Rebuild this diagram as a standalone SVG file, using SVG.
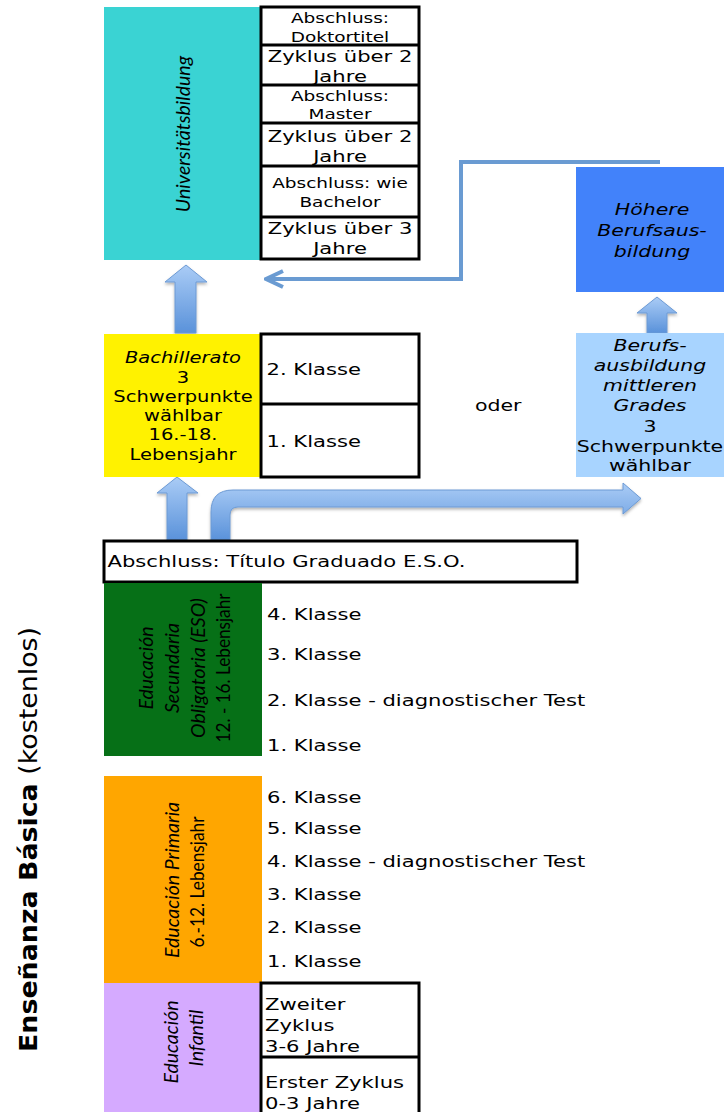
<svg xmlns="http://www.w3.org/2000/svg" width="724" height="1112" viewBox="0 0 724 1112">
<style>
.v{font-family:"DejaVu Sans",Verdana,sans-serif;fill:#000}
.s14{font-size:14px}
.s15{font-size:15px}
.s16{font-size:16px}
.m{text-anchor:middle}
.i{font-style:italic}
.c{font-family:Lato,"Open Sans",sans-serif;font-size:19.5px;fill:#000;text-anchor:middle}
.tbl{fill:#fff;stroke:#000;stroke-width:3}
.ln{stroke:#000;stroke-width:3}
.blk{fill:url(#ag);stroke:#6C9AD4;stroke-width:1;filter:url(#sh)}
.con{fill:none;stroke:#6A9BD2;stroke-width:4}
</style>
<defs>
<linearGradient id="ag" x1="0" y1="0" x2="0" y2="1">
<stop offset="0" stop-color="#AACCF6"/>
<stop offset="1" stop-color="#5A92DA"/>
</linearGradient>
<filter id="sh" x="-20%" y="-20%" width="140%" height="140%">
<feDropShadow dx="0" dy="2" stdDeviation="1.5" flood-color="#000" flood-opacity="0.3"/>
</filter>
<marker id="ah" viewBox="-20 -10 22 20" refX="0" refY="0" markerWidth="22" markerHeight="20" markerUnits="userSpaceOnUse" orient="auto">
<path d="M-17,-8 L0,0 L-17,8" fill="none" stroke="#6A9BD2" stroke-width="4"/>
</marker>
</defs>
<rect width="724" height="1112" fill="#fff"/>

<g id="connectors">
<polyline class="con" points="660,162 461,162 461,279 266,279" marker-end="url(#ah)"/>
<path class="blk" d="M186,265 L207,282 L196,282 L196,333 L175,333 L175,282 L165,282 Z"/>
<path class="blk" d="M657,297 L677,313 L667,313 L667,333 L647,333 L647,313 L637,313 Z"/>
<path class="blk" d="M177,477 L198,493 L187,493 L187,540 L167,540 L167,493 L157,493 Z"/>
<path class="blk" d="M211,540 L211,512 Q211,490 233,490 L623,490 L623,483 L641,498.5 L623,514 L623,507 L238,507 Q230,507 230,515 L230,540 Z"/>
</g>

<g id="universitaet">
<rect x="104" y="7" width="156" height="253" fill="#3AD3D3"/>
<text class="c i" transform="translate(189.5,134) rotate(-90)">Universitätsbildung</text>
</g>
<g id="uni-tabelle">
<rect class="tbl" x="261" y="7" width="158" height="252"/>
<line class="ln" x1="261" y1="45" x2="419" y2="45"/>
<line class="ln" x1="261" y1="85" x2="419" y2="85"/>
<line class="ln" x1="261" y1="123" x2="419" y2="123"/>
<line class="ln" x1="261" y1="166" x2="419" y2="166"/>
<line class="ln" x1="261" y1="217" x2="419" y2="217"/>
<text class="v s14 m" transform="translate(340,22.5) scale(1.32,1)">Abschluss:</text>
<text class="v s14 m" transform="translate(340,41.5) scale(1.32,1)">Doktortitel</text>
<text class="v s16 m" transform="translate(340,62) scale(1.32,1)">Zyklus über 2</text>
<text class="v s16 m" transform="translate(340,81.5) scale(1.32,1)">Jahre</text>
<text class="v s14 m" transform="translate(340,100.5) scale(1.32,1)">Abschluss:</text>
<text class="v s14 m" transform="translate(340,119) scale(1.32,1)">Master</text>
<text class="v s16 m" transform="translate(340,141.5) scale(1.32,1)">Zyklus über 2</text>
<text class="v s16 m" transform="translate(340,161.5) scale(1.32,1)">Jahre</text>
<text class="v s14 m" transform="translate(340,188) scale(1.32,1)">Abschluss: wie</text>
<text class="v s14 m" transform="translate(340,207) scale(1.32,1)">Bachelor</text>
<text class="v s16 m" transform="translate(340,234) scale(1.32,1)">Zyklus über 3</text>
<text class="v s16 m" transform="translate(340,254) scale(1.32,1)">Jahre</text>
</g>

<g id="hoehere">
<rect x="576" y="167" width="148" height="125" fill="#4282FA"/>
<text class="v s16 m i" transform="translate(652,215) scale(1.28,1)">Höhere</text>
<text class="v s16 m i" transform="translate(652,236) scale(1.28,1)">Berufsaus-</text>
<text class="v s16 m i" transform="translate(652,256.5) scale(1.28,1)">bildung</text>
</g>

<g id="bachillerato">
<rect x="104" y="334" width="156" height="143" fill="#FFF200"/>
<text class="v s15 m i" transform="translate(183,362.5) scale(1.3,1)">Bachillerato</text>
<text class="v s15 m" transform="translate(183,382.5) scale(1.3,1)">3</text>
<text class="v s15 m" transform="translate(183,401.5) scale(1.3,1)">Schwerpunkte</text>
<text class="v s15 m" transform="translate(183,420.5) scale(1.3,1)">wählbar</text>
<text class="v s15 m" transform="translate(183,440) scale(1.3,1)">16.-18.</text>
<text class="v s15 m" transform="translate(183,460) scale(1.3,1)">Lebensjahr</text>
</g>
<g id="bach-tabelle">
<rect class="tbl" x="261" y="334" width="158" height="143"/>
<line class="ln" x1="261" y1="404" x2="419" y2="404"/>
<text class="v s16" transform="translate(266.5,375) scale(1.32,1)">2. Klasse</text>
<text class="v s16" transform="translate(266.5,446.5) scale(1.32,1)">1. Klasse</text>
</g>

<g id="oder">
<text class="v s16" transform="translate(475,411) scale(1.28,1)">oder</text>
</g>

<g id="berufsausbildung">
<rect x="576" y="333" width="148" height="144" fill="#A8D4FF"/>
<text class="v s16 m i" transform="translate(650,350.5) scale(1.28,1)">Berufs-</text>
<text class="v s16 m i" transform="translate(650,371) scale(1.28,1)">ausbildung</text>
<text class="v s16 m i" transform="translate(650,391) scale(1.28,1)">mittleren</text>
<text class="v s16 m i" transform="translate(650,411) scale(1.28,1)">Grades</text>
<text class="v s16 m" transform="translate(650,431.5) scale(1.28,1)">3</text>
<text class="v s16 m" transform="translate(650,451.5) scale(1.28,1)">Schwerpunkte</text>
<text class="v s16 m" transform="translate(650,471) scale(1.28,1)">wählbar</text>
</g>

<g id="abschluss-eso">
<rect class="tbl" x="104" y="541" width="473" height="41"/>
<text class="v s16" transform="translate(107.5,567) scale(1.32,1)">Abschluss: Título Graduado E.S.O.</text>
</g>

<g id="eso">
<rect x="104" y="583" width="158" height="173" fill="#067017"/>
<text class="c i" transform="translate(153,668) rotate(-90)">Educación</text>
<text class="c i" transform="translate(179,668) rotate(-90)">Secundaria</text>
<text class="c i" transform="translate(205,668) rotate(-90)">Obligatoria (ESO)</text>
<text class="c" textLength="149" lengthAdjust="spacingAndGlyphs" transform="translate(230,668) rotate(-90)">12. - 16. Lebensjahr</text>
<text class="v s16" transform="translate(267,619.5) scale(1.32,1)">4. Klasse</text>
<text class="v s16" transform="translate(267,659.5) scale(1.32,1)">3. Klasse</text>
<text class="v s16" transform="translate(267,705.5) scale(1.32,1)">2. Klasse - diagnostischer Test</text>
<text class="v s16" transform="translate(267,750.5) scale(1.32,1)">1. Klasse</text>
</g>

<g id="primaria">
<rect x="104" y="776" width="158" height="207" fill="#FFA600"/>
<text class="c i" transform="translate(179,880) rotate(-90)">Educación Primaria</text>
<text class="c" textLength="131" lengthAdjust="spacingAndGlyphs" transform="translate(204,882) rotate(-90)">6.-12. Lebensjahr</text>
<text class="v s16" transform="translate(267,802.5) scale(1.32,1)">6. Klasse</text>
<text class="v s16" transform="translate(267,834) scale(1.32,1)">5. Klasse</text>
<text class="v s16" transform="translate(267,866.5) scale(1.32,1)">4. Klasse - diagnostischer Test</text>
<text class="v s16" transform="translate(267,900) scale(1.32,1)">3. Klasse</text>
<text class="v s16" transform="translate(267,933) scale(1.32,1)">2. Klasse</text>
<text class="v s16" transform="translate(267,966.5) scale(1.32,1)">1. Klasse</text>
</g>

<g id="infantil">
<rect x="104" y="983" width="158" height="129" fill="#D5AAFF"/>
<text class="c i" transform="translate(178,1042) rotate(-90)">Educación</text>
<text class="c i" transform="translate(203,1038) rotate(-90)">Infantil</text>
</g>
<g id="infantil-tabelle">
<rect class="tbl" x="261" y="983" width="158" height="131"/>
<line class="ln" x1="261" y1="1057" x2="419" y2="1057"/>
<text class="v s16" transform="translate(265,1009.5) scale(1.32,1)">Zweiter</text>
<text class="v s16" transform="translate(265,1031) scale(1.32,1)">Zyklus</text>
<text class="v s16" transform="translate(265,1052) scale(1.32,1)">3-6 Jahre</text>
<text class="v s16" transform="translate(265,1088) scale(1.32,1)">Erster Zyklus</text>
<text class="v s16" transform="translate(265,1109) scale(1.32,1)">0-3 Jahre</text>
</g>

<g id="ensenanza">
<text class="v" font-size="25" text-anchor="middle" textLength="425" lengthAdjust="spacingAndGlyphs" transform="translate(37,839.5) rotate(-90)"><tspan font-weight="bold">Enseñanza Básica</tspan> (kostenlos)</text>
</g>
</svg>
